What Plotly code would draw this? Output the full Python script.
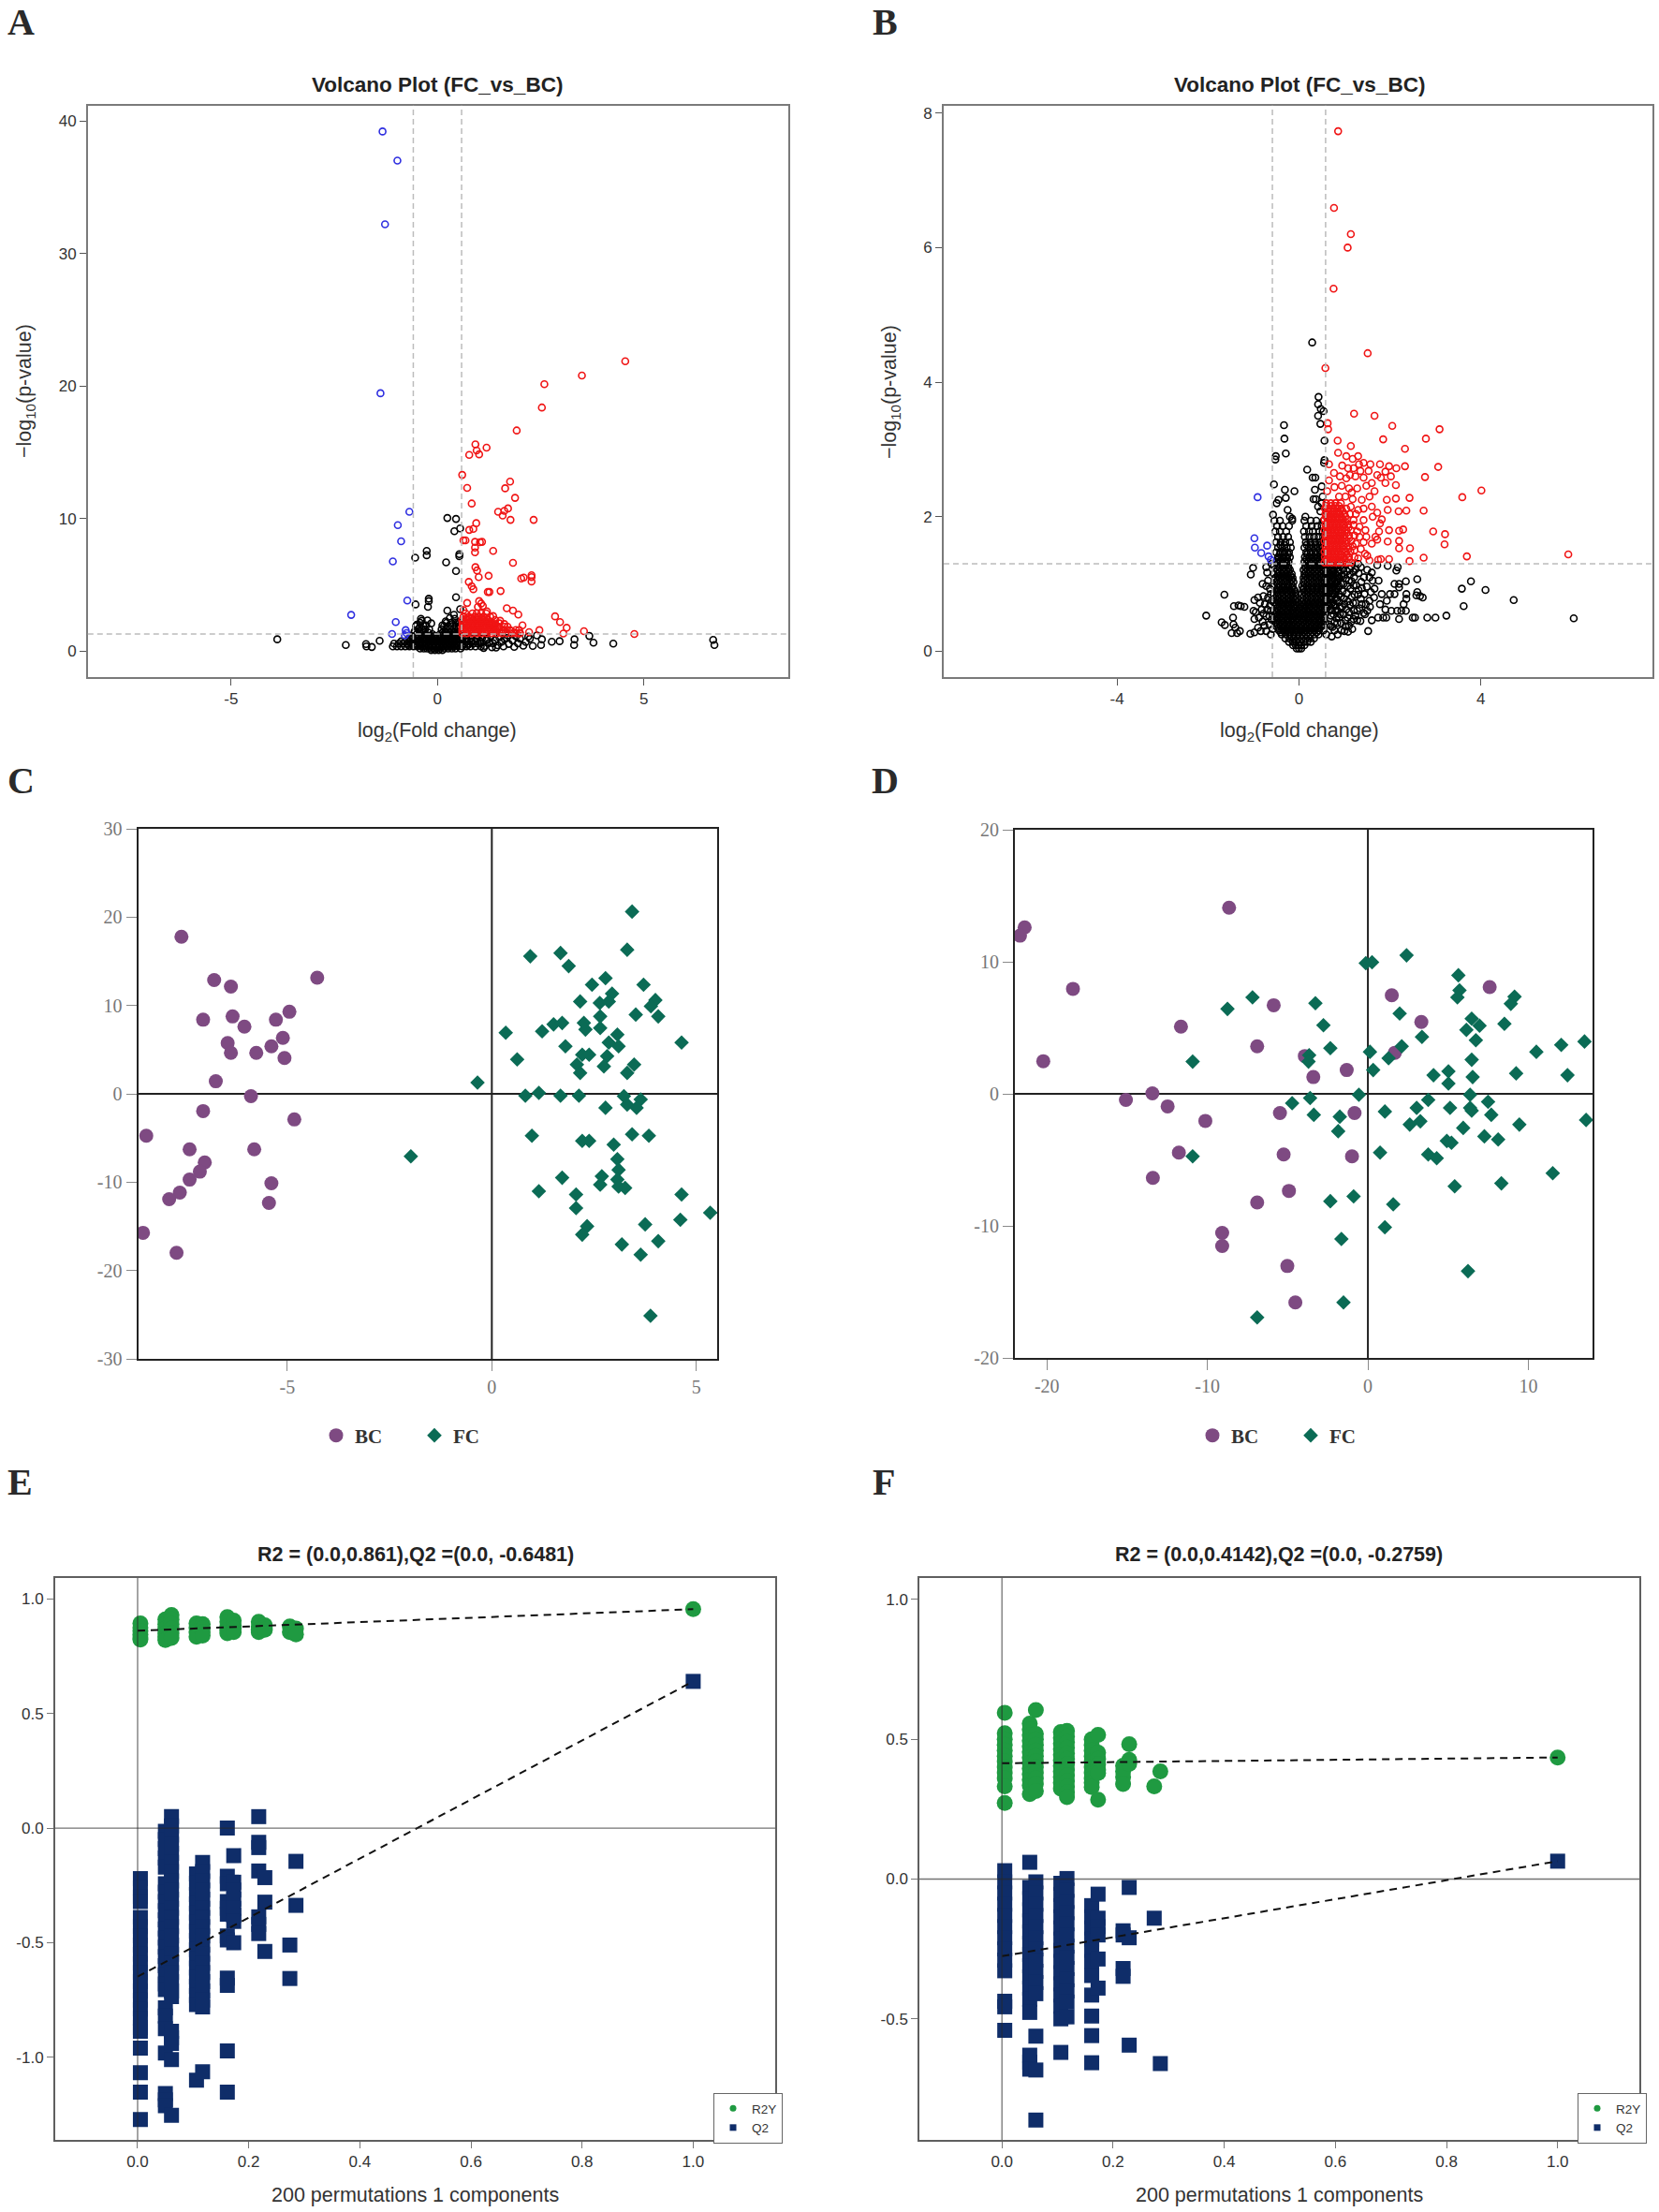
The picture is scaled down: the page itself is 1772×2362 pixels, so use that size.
import plotly.graph_objects as go

W, H = 1772, 2362

# ---------- Panel A volcano ----------
A_BLUE = [(-1.33,39.2),(-0.97,37.0),(-1.27,32.2),(-1.38,19.46),(-0.68,10.52),(-0.96,9.51),(-0.88,8.29),(-1.08,6.77),
          (-0.73,3.82),(-2.09,2.74),(-1.01,2.2),(-1.10,1.3),(-0.77,1.59),(-0.75,1.37),(-0.79,1.2)]
A_RED = [(4.55,21.87),(3.5,20.79),(2.59,20.14),(2.53,18.38),(1.92,16.65),(0.92,15.6),(0.95,15.14),(1.01,14.85),(1.19,15.35),
         (0.77,14.81),(0.60,13.3),(1.76,12.79),(1.64,12.29),(0.72,12.32),(1.88,11.57),(0.83,11.14),(1.71,10.77),(1.62,10.59),
         (1.47,10.52),(1.58,10.23),(1.77,9.91),(2.33,9.91),(0.94,9.66),(0.87,9.23),(0.77,9.15),(0.63,8.36),(0.68,8.36),(0.91,8.25),
         (1.03,8.22),(1.08,8.25),(0.91,7.82),(1.35,7.57),(0.91,7.46),(1.83,6.67),(0.92,6.34),(0.96,6.09),(1.24,5.69),(1.0,5.59),
         (2.28,5.73),(2.28,5.59),(2.03,5.48),(2.09,5.55),(2.28,5.26),(0.76,5.23),(0.83,4.9),(0.87,4.68),(1.26,4.47),(1.22,4.47),
         (1.53,4.54),(1.01,3.78),(0.72,3.64),(1.06,3.6),(1.1,3.42),(1.68,3.24),(1.83,3.06),(2.85,2.63),(1.96,2.77),(2.97,2.2),
         (3.13,1.77),(3.05,1.33),(3.55,1.51),(4.77,1.3),(2.47,1.59),(2.22,1.44),(2.06,1.95),(0.63,3.1),(0.98,3.35),(1.2,3.0),(1.35,2.65),
         (1.52,2.3),(1.62,2.05),(1.7,1.85),(1.78,1.55),(1.5,1.8),(1.4,2.05),(1.86,1.42),(2.0,1.36),(1.58,1.5)]
A_RED_ROWS = [(1.35,[0.6,0.72,0.84,0.96,1.08,1.2,1.32,1.44,1.56,1.68,1.8,1.92,2.0]),
              (1.48,[0.64,0.76,0.88,1.0,1.12,1.24,1.36,1.5]),
              (1.6,[0.6,0.71,0.83,0.95,1.07,1.19,1.31,1.42,1.6,1.75,1.9,1.98]),
              (1.72,[0.65,0.77,0.89,1.01,1.13,1.25,1.37,1.48]),
              (1.85,[0.6,0.72,0.85,0.97,1.09,1.2,1.33,1.46,1.62]),
              (1.98,[0.66,0.78,0.9,1.02,1.14,1.26,1.38]),
              (2.1,[0.61,0.73,0.84,0.96,1.08,1.19,1.31,1.5]),
              (2.22,[0.66,0.79,0.91,1.03,1.15,1.27]),
              (2.35,[0.6,0.74,0.86,0.98,1.1,1.22,1.4]),
              (2.48,[0.69,0.82,0.94,1.06,1.18]),
              (2.6,[0.63,0.76,0.9,1.0,1.12,1.28]),
              (2.85,[0.68,0.85,0.95,1.06,1.18])]
A_BLACK = [(0.24,10.05),(0.45,9.98),(0.41,9.05),(0.55,9.26),(-0.54,7.06),(-0.26,7.57),(-0.26,7.24),(0.53,7.32),(0.53,7.17),
           (0.21,6.7),(0.45,6.05),(0.45,4.07),(-0.21,3.96),(-0.21,3.78),(-0.23,3.35),(-0.53,3.53),(0.24,3.06),(0.55,3.17),
           (2.53,0.9),(2.41,1.19),(2.24,0.94),(2.51,0.47),(2.31,0.4),(2.77,0.72),(2.96,0.76),(3.32,0.9),(3.31,0.47),(3.68,1.15),
           (3.78,0.65),(4.26,0.58),(6.68,0.86),(6.71,0.47),(-3.88,0.9),(-2.22,0.47),(-1.73,0.54),(-1.72,0.36),(-1.59,0.32),(-1.4,0.79),
           (-0.4,2.45),(-0.38,2.3),(-0.24,2.32),(-0.27,1.95),(-0.15,2.1),(-0.5,2.0),(-0.44,1.75),(-0.55,1.5),(-0.3,1.65),
           (0.4,2.75),(0.3,2.5),(0.42,2.45),(0.2,2.25),(0.5,2.2),(0.12,1.95),
           (1.15,0.4),(1.25,0.62),(1.32,0.3),(1.4,0.85),(1.46,0.45),(1.55,0.7),(1.6,0.36),(1.68,1.0),(1.73,0.55),(1.82,0.8),(1.86,0.33),
           (1.95,0.6),(2.0,0.95),(2.08,0.42),(2.14,0.7),(2.2,1.1),(1.2,0.95),(1.3,1.15),(1.5,1.05),(1.7,1.2),(1.18,0.8),(1.35,0.6),
           (1.42,0.28),(1.62,0.95),(1.9,1.12),(1.12,0.25),(1.05,0.62)]
A_BLACK_ROWS = [(0.08,[-0.15,-0.06,0.03,0.12]),
                (0.2,[-0.42,-0.33,-0.25,-0.16,-0.08,0.0,0.08,0.17,0.26,0.35,0.44,0.56]),
                (0.36,[-1.08,-0.98,-0.88,-0.78,-0.68,-0.58,-0.49,-0.4,-0.31,-0.22,-0.13,-0.04,0.05,0.14,0.23,0.32,0.41,0.5,0.6,0.7,0.8,0.92,1.05]),
                (0.47,[-0.7,-0.6,-0.5,-0.41,-0.31,-0.22,-0.13,-0.04,0.05,0.14,0.23,0.32,0.41,0.5,0.62,0.74]),
                (0.58,[-1.05,-0.94,-0.84,-0.74,-0.64,-0.54,-0.45,-0.36,-0.27,-0.18,-0.09,0.0,0.09,0.18,0.27,0.36,0.45,0.55,0.65,0.76,0.87,0.98]),
                (0.74,[-0.88,-0.78,-0.68,-0.58,-0.48,-0.39,-0.3,-0.21,-0.12,-0.03,0.06,0.15,0.24,0.33,0.42,0.51,0.61,0.71,0.82,0.93,1.04]),
                (0.85,[-0.64,-0.54,-0.44,-0.35,-0.26,-0.16,-0.07,0.02,0.11,0.2,0.29,0.38,0.47,0.57]),
                (0.98,[-0.68,-0.6,-0.5,-0.41,-0.32,-0.22,-0.13,-0.04,0.05,0.14,0.23,0.32,0.41,0.5,0.6,0.7,0.82,0.95,1.08]),
                (1.15,[-0.62,-0.45,-0.38,-0.25,-0.16,-0.06,0.1,0.18,0.27,0.36,0.45,0.54,0.66,0.8,0.98]),
                (1.28,[-0.5,-0.3,-0.12,0.06,0.16,0.25,0.34,0.43,0.52]),
                (1.4,[-0.56,-0.42,-0.32,-0.22,0.12,0.21,0.3,0.39,0.48,0.56]),
                (1.65,[-0.47,-0.36,-0.2,0.1,0.2,0.3,0.4,0.5]),
                (1.9,[-0.52,-0.34,0.16,0.26,0.36,0.46,0.55]),
                (2.15,[-0.42,0.22,0.33,0.44,0.53])]

# ---------- Panel B volcano ----------
B_BLUE = [(-0.91,2.29),(-0.98,1.68),(-0.97,1.54),(-0.7,1.57),(-0.83,1.46),(-0.67,1.41),(-0.62,1.36)]
B_RED = [(0.86,7.73),(0.77,6.59),(1.14,6.20),(1.07,6.0),(0.76,5.39),(1.51,4.43),(0.58,4.21),(1.21,3.53),(1.66,3.5),(0.63,3.39),
         (0.64,3.3),(2.05,3.35),(3.09,3.3),(1.85,3.15),(2.79,3.16),(0.85,3.13),(1.14,3.05),(2.33,3.01),(0.86,2.95),(3.06,2.74),
         (4.01,2.39),(3.59,2.29),(2.43,2.28),(2.77,2.59),(2.74,2.09),(2.36,2.09),(2.19,2.08),(2.95,1.78),(3.21,1.74),(3.2,1.59),
         (2.44,1.53),(2.2,1.53),(2.74,1.39),(2.43,1.34),(3.69,1.41),(5.92,1.44),(2.2,1.64),(1.95,1.63),(2.29,1.81),(2.2,1.79),
         (2.13,2.27),(2.13,2.47),(2.33,2.75),(2.14,2.72),(1.98,2.75),(1.9,2.67),(1.78,2.78),(1.57,2.78),(1.42,2.8),(1.3,2.9),
         (1.18,2.86),(1.04,2.9),(1.32,2.78),(1.2,2.72),(1.08,2.72),(0.95,2.76),(0.77,2.65),(0.66,2.78),(0.9,2.6),(1.04,2.57),
         (1.24,2.6),(1.42,2.58),(1.6,2.5),(1.8,2.58),(1.9,2.5),(1.48,2.46),(1.28,2.42),(1.1,2.42),(0.94,2.46),(0.78,2.44),
         (0.66,2.54),(0.62,2.38),(1.66,2.38),(1.55,2.3),(1.38,2.25),(1.02,2.3),(1.18,2.26),(1.93,2.25),(0.88,2.3),(1.6,2.15),
         (1.42,2.12),(1.3,2.1),(1.25,2.04),(1.72,2.06),(1.95,2.1),(1.62,2.0),(1.42,1.95),(1.82,1.96),(1.78,1.9),(1.46,1.8),
         (1.33,1.85),(1.98,1.8),(1.76,1.78),(1.72,1.66),(1.48,1.7),(1.42,1.62),(1.6,1.6),(1.68,1.7),(1.33,1.7),(1.45,1.45),
         (1.5,1.42),(1.74,1.36),(1.8,1.37),(1.98,1.37),(1.3,1.38),(1.25,1.6),(1.55,1.35),(1.2,1.95),(1.14,2.15),(1.28,1.78),
         (1.22,1.5),(1.36,1.52),(1.16,2.36),(1.72,2.62),(2.02,2.6),(1.53,2.68),(1.35,2.68),(1.12,2.62)]
B_RED_ROWS = [(1.32,[0.56,0.64,0.72,0.8,0.88,0.97,1.05,1.14]),
              (1.36,[0.6,0.68,0.76,0.84,0.93,1.01,1.1]),
              (1.4,[0.57,0.65,0.74,0.82,0.9,0.99,1.1,1.22]),
              (1.44,[0.61,0.69,0.78,0.86,0.94,1.05]),
              (1.48,[0.56,0.63,0.71,0.79,0.87,0.95,1.03,1.13]),
              (1.52,[0.6,0.67,0.75,0.83,0.91,0.99,1.08]),
              (1.56,[0.58,0.66,0.74,0.82,0.9,0.98,1.08,1.18]),
              (1.6,[0.62,0.7,0.78,0.86,0.94,1.03]),
              (1.64,[0.56,0.64,0.72,0.8,0.88,0.96,1.05,1.15]),
              (1.68,[0.6,0.68,0.76,0.84,0.92,1.0,1.1]),
              (1.72,[0.58,0.66,0.75,0.83,0.91,1.0,1.1,1.22]),
              (1.76,[0.62,0.7,0.79,0.87,0.95,1.05]),
              (1.8,[0.56,0.63,0.71,0.79,0.87,0.95,1.04,1.14]),
              (1.84,[0.6,0.67,0.75,0.83,0.91,1.0,1.09]),
              (1.88,[0.58,0.66,0.74,0.82,0.9,0.98,1.08,1.2]),
              (1.92,[0.62,0.7,0.78,0.86,0.94,1.03]),
              (1.96,[0.56,0.64,0.72,0.8,0.88,0.97,1.06]),
              (2.0,[0.6,0.68,0.76,0.84,0.93,1.02]),
              (2.04,[0.58,0.65,0.73,0.82,0.9,1.0,1.12]),
              (2.08,[0.62,0.7,0.78,0.87,0.96]),
              (2.12,[0.57,0.66,0.75,0.84,0.93,1.04]),
              (2.16,[0.6,0.71,0.8,0.88]),
              (2.2,[0.6,0.7,0.8,0.92])]
B_BLACK = [(0.29,4.59),(0.43,3.78),(0.42,3.67),(0.42,3.5),(0.54,3.57),(0.48,3.6),(0.47,3.38),(0.56,3.13),(-0.33,3.36),(-0.32,3.16),
           (-0.29,2.94),(-0.51,2.9),(-0.52,2.85),(0.18,2.7),(0.3,2.58),(0.36,2.58),(0.56,2.84),(0.55,2.8),(-0.55,2.48),(0.5,2.45),(-0.31,2.4),
           (-0.1,2.38),(0.35,2.4),(-0.29,2.28),(-0.45,2.25),(-0.49,2.2),(0.32,2.26),(0.37,2.26),(0.52,2.3),(-0.57,2.03),(-0.25,2.1),(0.5,2.2),
           (-0.2,2.0),(-0.15,1.97),(0.14,2.0),(0.42,2.15),(0.47,2.08),(-1.01,1.24),(-1.06,1.14),(-0.72,1.25),(-0.7,1.17),(-0.6,1.3),
           (-0.8,1.0),(-0.72,0.97),(-0.9,0.8),(-0.98,0.76),(-1.0,0.6),(-1.2,0.66),(-1.28,0.67),(-1.33,0.68),(-1.43,0.67),(-1.64,0.84),
           (-2.04,0.53),(-1.7,0.43),(-1.63,0.39),(-1.44,0.4),(-1.45,0.5),(-1.4,0.35),(-1.36,0.27),(-1.3,0.3),(-1.48,0.27),(-1.07,0.26),
           (-0.98,0.28),(-0.9,0.35),(-0.98,0.48),(-0.88,0.5),(-0.95,0.58),(-0.82,0.62),(-0.75,0.7),(-0.8,0.44),(-0.72,0.3),(-0.65,0.52),
           (-0.72,0.52),(-0.64,0.68),(-0.62,0.85),(-0.78,0.82),(-0.65,0.4),(-0.62,0.25),(-0.68,1.05),
           (-0.58,0.33),(-0.6,0.47),(-0.62,0.6),(-0.6,0.75),(-0.64,0.93),(-0.68,0.8),(-0.7,0.62),(-0.76,0.38),(-0.84,0.3),(-0.86,0.72),(-0.78,0.56),
           (6.04,0.49),(4.72,0.76),(4.1,0.91),(3.78,1.04),(3.58,0.93),(3.62,0.67),(3.24,0.53),(3.0,0.5),(2.82,0.5),(2.55,0.5),(2.5,0.5),
           (2.36,0.78),(2.66,0.82),(2.6,0.88),(2.58,0.83),(2.72,0.8),(2.6,1.07),(2.35,1.04),(2.2,1.0),(2.1,1.0),(2.2,0.95),(2.1,0.85),(2.0,0.85),
           (2.36,0.85),(2.3,0.7),(2.25,0.6),(2.35,0.6),(2.16,0.6),(2.2,0.48),(2.03,0.6),(1.92,0.5),(1.85,0.5),(1.74,0.5),(1.6,0.46),
           (1.52,0.3),(1.78,0.7),(1.9,0.62),(1.93,0.75),(1.82,0.85),(1.75,1.05),(1.62,1.05),(1.55,1.1),(1.95,1.27),(2.14,1.2),(2.17,1.25),
           (1.65,0.8),(1.55,0.75),(1.5,0.6),(1.45,0.55),(1.35,0.45),(1.2,0.48),(1.1,0.38),(1.0,0.3),(0.85,0.25),(0.72,0.22),
           (0.93,0.42),(1.02,0.37),(0.98,0.55),(1.07,0.5),(1.15,0.44),(1.24,0.53),(1.28,0.46),(0.95,0.66),(1.04,0.62),(1.12,0.69),(1.21,0.6),
           (1.33,0.64),(1.42,0.57),(0.99,0.78),(1.08,0.74),(1.16,0.81),(1.25,0.72),(1.36,0.78),(1.47,0.7),(1.56,0.66),(0.96,0.89),(1.05,0.86),
           (1.13,0.93),(1.22,0.84),(1.31,0.91),(1.44,0.85),(1.58,0.88),(0.98,1.0),(1.07,0.97),(1.16,1.04),(1.26,0.98),(1.37,1.03),(1.49,0.96),
           (1.66,0.93),(0.94,1.11),(1.03,1.08),(1.12,1.14),(1.21,1.1),(1.31,1.16),(1.43,1.1),(1.6,1.17),(0.97,1.22),(1.06,1.19),(1.15,1.26),
           (1.25,1.22),(1.36,1.25),(1.5,1.21),(1.72,1.28),(0.93,0.31),(1.08,0.29),(1.17,0.33),
           (0.66,0.4),(0.74,0.36),(0.84,0.42),(0.7,0.53),(0.8,0.6),(0.88,0.5),(0.76,0.68),(0.9,0.66),(0.78,0.84),(0.84,0.76),(0.92,0.81),(1.0,0.7),
           (0.74,0.94),(0.82,0.93),(0.92,1.0),(0.78,1.05),(0.87,1.12),(1.0,1.14),(0.76,1.2),(0.82,1.28),(0.92,1.27),(1.02,1.29),(1.11,1.22),(1.2,1.18),
           (1.3,1.3),(1.1,1.05),(1.2,0.98),(1.3,0.84),(1.38,0.94),(1.19,0.72),(1.28,0.6),(1.1,0.58),(1.02,0.46),(1.38,0.7)]
B_BLACK_ROWS = [(0.04,[-0.05,0.0,0.05]),
                (0.09,[-0.13,-0.07,-0.01,0.05,0.12]),
                (0.14,[-0.22,-0.14,-0.06,0.02,0.1,0.18,0.26]),
                (0.19,[-0.3,-0.21,-0.12,-0.03,0.06,0.15,0.24,0.33]),
                (0.25,[-0.38,-0.29,-0.2,-0.11,-0.02,0.07,0.16,0.25,0.34,0.43,0.6]),
                (0.28,[-0.4,-0.31,-0.21,-0.11,-0.01,0.09,0.19,0.29,0.39]),
                (0.31,[-0.44,-0.35,-0.26,-0.16,-0.06,0.04,0.14,0.24,0.34,0.44,0.54,0.78]),
                (0.34,[-0.45,-0.35,-0.25,-0.15,-0.05,0.05,0.15,0.25,0.35,0.45]),
                (0.37,[-0.5,-0.4,-0.3,-0.2,-0.1,0.0,0.1,0.2,0.3,0.4,0.5,0.7]),
                (0.4,[-0.47,-0.37,-0.27,-0.17,-0.07,0.03,0.13,0.23,0.33,0.43,0.53]),
                (0.43,[-0.52,-0.42,-0.32,-0.22,-0.12,-0.02,0.08,0.18,0.28,0.38,0.48,0.58,0.78]),
                (0.46,[-0.5,-0.4,-0.3,-0.2,-0.1,0.0,0.1,0.2,0.3,0.4,0.5]),
                (0.49,[-0.55,-0.45,-0.35,-0.25,-0.15,-0.05,0.05,0.15,0.25,0.35,0.45,0.55,0.82]),
                (0.52,[-0.47,-0.37,-0.27,-0.17,-0.07,0.03,0.13,0.23,0.33,0.43,0.53]),
                (0.55,[-0.52,-0.42,-0.32,-0.22,-0.12,-0.02,0.08,0.18,0.28,0.38,0.48,0.58,0.76,0.9]),
                (0.58,[-0.5,-0.4,-0.3,-0.2,-0.1,0.0,0.1,0.2,0.3,0.4,0.5]),
                (0.61,[-0.55,-0.45,-0.35,-0.25,-0.15,-0.05,0.05,0.15,0.25,0.35,0.45,0.55,0.72,0.84]),
                (0.64,[-0.47,-0.37,-0.27,-0.17,-0.07,0.03,0.13,0.23,0.33,0.43,0.53,0.62]),
                (0.67,[-0.52,-0.42,-0.32,-0.22,-0.12,-0.03,0.08,0.18,0.28,0.38,0.48,0.58,0.66,0.8]),
                (0.7,[-0.5,-0.4,-0.3,-0.2,-0.1,0.0,0.1,0.2,0.3,0.4,0.5,0.62,0.71]),
                (0.73,[-0.55,-0.45,-0.35,-0.25,-0.15,-0.06,0.06,0.15,0.25,0.35,0.45,0.55,0.64,0.75,0.88]),
                (0.76,[-0.47,-0.37,-0.27,-0.17,-0.08,0.11,0.21,0.31,0.41,0.51,0.6,0.69]),
                (0.79,[-0.52,-0.42,-0.32,-0.22,-0.12,0.08,0.18,0.28,0.38,0.48,0.58,0.68,0.82]),
                (0.82,[-0.48,-0.38,-0.28,-0.18,-0.09,0.11,0.21,0.31,0.41,0.51,0.6,0.72]),
                (0.85,[-0.55,-0.45,-0.35,-0.25,-0.15,-0.07,0.06,0.15,0.25,0.35,0.45,0.55,0.62,0.74,0.88]),
                (0.88,[-0.47,-0.37,-0.27,-0.17,-0.08,0.12,0.22,0.32,0.42,0.52,0.6,0.67,0.8]),
                (0.91,[-0.5,-0.4,-0.3,-0.2,-0.1,0.09,0.19,0.29,0.39,0.49,0.59,0.68,0.8]),
                (0.94,[-0.46,-0.36,-0.26,-0.16,0.1,0.2,0.3,0.4,0.5,0.58,0.66,0.74,0.86]),
                (0.97,[-0.55,-0.44,-0.34,-0.24,-0.14,0.07,0.17,0.27,0.37,0.47,0.57,0.64,0.76,0.88]),
                (1.0,[-0.47,-0.37,-0.27,-0.17,0.13,0.23,0.33,0.43,0.53,0.62,0.71,0.8]),
                (1.03,[-0.5,-0.4,-0.3,-0.2,-0.12,0.1,0.2,0.3,0.4,0.5,0.6,0.7,0.82]),
                (1.06,[-0.46,-0.36,-0.26,-0.16,0.13,0.23,0.33,0.43,0.53,0.62,0.72,0.86]),
                (1.09,[-0.52,-0.43,-0.33,-0.23,-0.14,0.1,0.2,0.3,0.4,0.5,0.58,0.66,0.76,0.88]),
                (1.12,[-0.47,-0.38,-0.28,-0.18,0.14,0.24,0.34,0.44,0.54,0.62,0.72,0.84]),
                (1.15,[-0.55,-0.46,-0.36,-0.26,-0.16,0.12,0.21,0.31,0.41,0.51,0.6,0.7,0.8]),
                (1.18,[-0.43,-0.33,-0.24,0.15,0.25,0.35,0.45,0.55,0.64,0.74,0.86]),
                (1.21,[-0.48,-0.38,-0.28,-0.2,0.1,0.19,0.29,0.39,0.49,0.58,0.66,0.76,0.88]),
                (1.24,[-0.42,-0.32,-0.23,0.14,0.24,0.34,0.44,0.54,0.62,0.72,0.84]),
                (1.27,[-0.55,-0.44,-0.34,-0.24,0.14,0.23,0.33,0.43,0.52,0.6,0.68,0.8]),
                (1.3,[-0.47,-0.37,-0.27,0.17,0.27,0.37,0.47,0.56,0.66,0.76]),
                (1.33,[-0.5,-0.41,-0.31,-0.23,0.12,0.21,0.31,0.41,0.51]),
                (1.37,[-0.45,-0.35,-0.26,0.16,0.26,0.36,0.46,0.54]),
                (1.4,[-0.46,-0.37,-0.28,-0.2,0.13,0.23,0.33,0.43,0.53]),
                (1.44,[-0.42,-0.33,-0.24,0.18,0.28,0.38,0.48]),
                (1.47,[-0.5,-0.41,-0.32,-0.22,0.16,0.26,0.36,0.46,0.54]),
                (1.54,[-0.46,-0.37,-0.27,-0.18,0.12,0.22,0.32,0.42,0.52]),
                (1.58,[-0.41,-0.32,0.17,0.27,0.37,0.47]),
                (1.62,[-0.5,-0.4,-0.3,-0.2,0.15,0.25,0.35,0.45,0.54]),
                (1.7,[-0.46,-0.35,-0.24,0.13,0.23,0.33,0.43,0.53]),
                (1.78,[-0.52,-0.42,-0.28,0.11,0.22,0.3,0.45,0.52]),
                (1.86,[-0.48,-0.36,-0.22,0.16,0.28,0.4,0.5]),
                (1.94,[-0.54,-0.42,-0.15,0.12,0.26,0.38,0.54])]

# ---------- Panels C and D: score plots ----------
C_BC_X = [-7.59,-6.79,-6.38,-4.27,-4.95,-5.28,-6.34,-7.06,-6.05,-5.11,-6.46,-6.38,-5.76,-5.39,-5.07,-6.75,-5.89,-7.06,-4.83,-8.45,-7.39,-5.81,-7.02,-7.14,-7.39,-5.39,-7.63,-7.89,-5.45,-8.53,-7.71]
C_BC_Y = [17.78,12.88,12.14,13.14,9.29,8.39,8.76,8.39,7.60,6.33,5.75,4.64,4.64,5.38,4.06,1.42,-0.26,-1.95,-2.90,-4.75,-6.28,-6.28,-7.76,-8.81,-9.71,-10.13,-11.19,-11.93,-12.35,-15.73,-17.99]
C_FC_X = [3.43,3.31,1.68,0.94,1.88,2.78,2.45,3.71,2.94,4.0,2.16,2.64,2.86,3.89,3.52,4.07,2.65,1.51,1.72,2.25,2.29,2.65,0.34,1.23,3.07,2.86,4.64,3.10,1.80,2.21,2.38,2.82,0.62,2.08,3.48,2.74,2.16,3.31,-0.35,1.15,0.82,1.68,2.13,3.23,3.64,3.31,2.78,3.54,0.98,3.43,3.84,2.21,2.38,2.98,-1.98,3.07,3.10,1.72,2.69,3.07,2.65,3.10,3.26,1.15,2.06,4.64,2.06,5.34,4.61,3.75,2.33,2.21,4.07,3.18,3.64,3.88]
C_FC_Y = [20.63,16.31,15.94,15.57,14.46,13.09,12.35,12.35,11.35,10.61,10.45,10.29,10.45,9.92,8.97,8.76,8.76,7.86,8.02,8.02,7.28,7.44,6.91,7.07,6.70,5.80,5.80,5.38,5.38,4.43,4.43,4.27,3.90,3.32,3.32,3.11,2.37,2.37,1.27,0.11,-0.21,-0.21,-0.21,-0.26,-0.63,-1.21,-1.58,-1.58,-4.75,-4.59,-4.75,-5.33,-5.33,-5.75,-7.07,-7.39,-8.60,-9.50,-9.34,-9.71,-10.29,-10.50,-10.66,-11.03,-11.40,-11.40,-12.93,-13.46,-14.25,-14.78,-14.99,-15.94,-16.68,-17.05,-18.21,-25.12]
D_BC_X = [-8.65,-21.39,-21.68,-18.38,7.59,1.49,-5.87,3.33,-11.65,-6.90,-20.23,1.68,-3.93,-1.32,-3.40,-13.43,-15.08,-12.48,-5.48,-0.83,-10.13,-11.78,-5.25,-0.99,-13.40,-4.92,-6.90,-9.08,-9.08,-5.02,-4.52]
D_BC_Y = [14.10,12.61,11.98,7.95,8.09,7.46,6.71,5.44,5.09,3.60,2.47,3.11,2.86,1.80,1.27,0.04,-0.46,-0.95,-1.45,-1.45,-2.05,-4.45,-4.59,-4.73,-6.36,-7.35,-8.23,-10.53,-11.52,-13.04,-15.80]
D_FC_X = [2.41,-0.13,0.26,5.64,5.71,5.58,-7.19,9.14,8.91,-8.75,-3.27,1.98,6.47,8.51,6.96,-2.77,6.14,3.37,6.73,13.50,12.05,-2.34,2.11,10.50,0.13,-3.66,1.29,6.47,-3.70,-10.92,0.33,5.02,9.24,4.09,12.44,6.53,5.02,-0.56,6.37,-3.60,3.76,7.49,-4.72,3.04,5.12,6.37,1.06,6.47,-3.37,-1.75,7.69,13.60,3.27,2.61,9.44,5.94,-1.85,7.26,8.12,4.92,5.21,0.76,-10.92,3.76,4.29,11.52,8.32,5.41,-0.89,-2.34,1.58,1.06,-1.65,6.24,-1.52,-6.90]
D_FC_Y = [10.49,9.89,9.96,8.98,7.84,7.31,7.31,7.35,6.82,6.43,6.86,6.08,5.69,5.30,5.16,5.19,4.84,4.31,4.06,3.96,3.71,3.46,3.60,3.18,3.18,2.93,2.69,2.58,2.44,2.44,1.80,1.70,1.55,1.41,1.41,1.27,0.78,-0.07,-0.07,-0.32,-0.46,-0.60,-0.71,-1.06,-1.06,-1.06,-1.34,-1.27,-1.59,-1.73,-1.59,-1.98,-2.08,-2.33,-2.33,-2.58,-2.83,-3.22,-3.46,-3.57,-3.71,-4.45,-4.73,-4.59,-4.88,-6.01,-6.78,-7.00,-7.77,-8.13,-8.37,-10.11,-10.99,-13.43,-15.80,-16.93]

# ---------- Panels E and F: permutation plots (x column, y values) ----------
E_R2 = [(0.005,[0.893,0.875,0.86,0.845,0.83,0.822]),(0.05,[0.91,0.89,0.87,0.85,0.835,0.82]),(0.061,[0.93,0.91,0.89,0.87,0.85,0.83]),
        (0.106,[0.893,0.875,0.855,0.835]),(0.117,[0.89,0.87,0.855,0.84]),(0.1615,[0.92,0.9,0.88,0.865,0.85]),(0.173,[0.905,0.885,0.87,0.855]),
        (0.218,[0.9,0.88,0.865,0.855]),(0.229,[0.885,0.875,0.865]),(0.274,[0.88,0.855]),(0.285,[0.87,0.845]),(1.0,[0.955])]
E_Q2 = [(0.005,[-0.22,-0.26,-0.30,-0.32,-0.39,-0.43,-0.47,-0.51,-0.55,-0.59,-0.63,-0.67,-0.71,-0.75,-0.79,-0.83,-0.87,-0.886,-0.96,-1.067,-1.152,-1.271]),
        (0.05,[-0.014,-0.05,-0.09,-0.13,-0.17,-0.243,-0.28,-0.32,-0.36,-0.40,-0.44,-0.48,-0.52,-0.56,-0.60,-0.64,-0.68,-0.704,-0.784,-0.82,-0.875,-0.981,-1.158,-1.185,-1.211]),
        (0.061,[0.05,0.01,-0.03,-0.07,-0.11,-0.15,-0.19,-0.23,-0.27,-0.31,-0.35,-0.39,-0.43,-0.47,-0.51,-0.55,-0.59,-0.63,-0.67,-0.71,-0.735,-0.886,-0.915,-0.939,-1.01,-1.253]),
        (0.106,[-0.20,-0.24,-0.29,-0.33,-0.37,-0.41,-0.45,-0.49,-0.53,-0.57,-0.61,-0.65,-0.69,-0.73,-0.77,-1.10]),
        (0.117,[-0.15,-0.19,-0.23,-0.27,-0.31,-0.35,-0.39,-0.43,-0.47,-0.51,-0.55,-0.59,-0.63,-0.67,-0.71,-0.75,-0.78,-1.063]),
        (0.1615,[0.0,-0.21,-0.243,-0.32,-0.35,-0.376,-0.47,-0.488,-0.654,-0.686,-0.972,-1.152]),
        (0.173,[-0.12,-0.236,-0.27,-0.31,-0.35,-0.38,-0.407,-0.50]),
        (0.218,[0.05,-0.062,-0.085,-0.187,-0.387,-0.42,-0.46]),(0.229,[-0.216,-0.323,-0.538]),
        (0.274,[-0.51,-0.656]),(0.285,[-0.145,-0.337]),(1.0,[0.64])]
F_R2 = [(0.005,[0.595,0.522,0.5,0.48,0.46,0.44,0.42,0.40,0.38,0.36,0.332,0.272]),
        (0.05,[0.556,0.535,0.515,0.495,0.475,0.455,0.435,0.415,0.395,0.375,0.355,0.335,0.304]),
        (0.061,[0.605,0.519,0.5,0.48,0.46,0.44,0.42,0.40,0.38,0.36,0.34,0.315]),
        (0.106,[0.526,0.505,0.485,0.465,0.445,0.425,0.405,0.385,0.365,0.345,0.323]),
        (0.117,[0.53,0.51,0.49,0.47,0.45,0.43,0.41,0.39,0.37,0.35,0.33,0.31,0.293]),
        (0.1615,[0.50,0.48,0.46,0.44,0.42,0.40,0.38,0.36,0.345,0.329]),
        (0.173,[0.516,0.452,0.43,0.41,0.39,0.379,0.284]),
        (0.218,[0.405,0.385,0.365,0.34]),(0.229,[0.482,0.426,0.412]),(0.274,[0.332]),(0.285,[0.385]),(1.0,[0.435])]
F_Q2 = [(0.005,[0.03,-0.01,-0.05,-0.09,-0.13,-0.17,-0.21,-0.25,-0.29,-0.328,-0.437,-0.457,-0.541]),
        (0.05,[0.06,-0.03,-0.07,-0.11,-0.15,-0.19,-0.23,-0.27,-0.31,-0.35,-0.39,-0.43,-0.477,-0.63,-0.655,-0.68]),
        (0.061,[-0.01,-0.05,-0.09,-0.13,-0.17,-0.21,-0.25,-0.29,-0.33,-0.37,-0.41,-0.562,-0.683,-0.862]),
        (0.106,[-0.015,-0.055,-0.095,-0.135,-0.175,-0.215,-0.255,-0.295,-0.335,-0.375,-0.415,-0.455,-0.50,-0.62]),
        (0.117,[0.002,-0.04,-0.08,-0.12,-0.16,-0.20,-0.24,-0.28,-0.32,-0.36,-0.40,-0.44,-0.493]),
        (0.1615,[-0.095,-0.135,-0.175,-0.215,-0.255,-0.295,-0.345,-0.415,-0.49,-0.56,-0.657]),
        (0.173,[-0.054,-0.14,-0.17,-0.20,-0.286,-0.39]),
        (0.218,[-0.185,-0.20,-0.32,-0.348]),(0.229,[-0.03,-0.21,-0.594]),(0.274,[-0.14]),(0.285,[-0.66]),(1.0,[0.064])]
E_R2_FIT = ([0.0,1.0],[0.861,0.955])
E_Q2_FIT = ([0.0,1.0],[-0.6481,0.64])
F_R2_FIT = ([0.0,1.0],[0.4142,0.435])
F_Q2_FIT = ([0.0,1.0],[-0.2759,0.064])

A_XTICKS, A_XTEXT = [-5,0,5], ["-5","0","5"]
A_YTICKS, A_YTEXT = [0,10,20,30,40], ["0","10","20","30","40"]
B_XTICKS, B_XTEXT = [-4,0,4], ["-4","0","4"]
B_YTICKS, B_YTEXT = [0,2,4,6,8], ["0","2","4","6","8"]
C_XTICKS, C_XTEXT = [-5,0,5], ["-5","0","5"]
C_YTICKS, C_YTEXT = [-30,-20,-10,0,10,20,30], ["-30","-20","-10","0","10","20","30"]
D_XTICKS, D_XTEXT = [-20,-10,0,10], ["-20","-10","0","10"]
D_YTICKS, D_YTEXT = [-20,-10,0,10,20], ["-20","-10","0","10","20"]
P_XTICKS, P_XTEXT = [0,0.2,0.4,0.6,0.8,1.0], ["0.0","0.2","0.4","0.6","0.8","1.0"]
E_YTICKS, E_YTEXT = [-1,-0.5,0,0.5,1], ["-1.0","-0.5","0.0","0.5","1.0"]
F_YTICKS, F_YTEXT = [-0.5,0,0.5,1], ["-0.5","0.0","0.5","1.0"]

# ---------- helpers ----------
def pairs(points, rows=()):
    xs = [p[0] for p in points]; ys = [p[1] for p in points]
    for y, row in rows:
        xs += row; ys += [y]*len(row)
    return xs, ys

def cols(columns):
    xs, ys = [], []
    for x, vals in columns:
        xs += [x]*len(vals); ys += vals
    return xs, ys

fig = go.Figure()
SANS = "Liberation Sans"; SERIF = "Liberation Serif"

PANELS = {  # x0, x1, y0, y1 in pixels; axis ranges
    "": (93.8, 842, 112.8, 723, (-8.47,8.5), (-1.95,41.15)),
    "2": (1008, 1765, 112.8, 723, (-7.81,7.77), (-0.384,8.11)),
    "3": (147.5, 766, 885, 1451, (-8.65,5.51), (-30,30)),
    "4": (1084, 1701, 886, 1450, (-22.0,14.0), (-20,20)),
    "5": (58.8, 828, 1685, 2285, (-0.1486,1.1476), (-1.36,1.091)),
    "6": (982, 1751, 1685, 2285, (-0.1486,1.147), (-0.933,1.077)),
}
TICKS = {"":(A_XTICKS,A_XTEXT,A_YTICKS,A_YTEXT),"2":(B_XTICKS,B_XTEXT,B_YTICKS,B_YTEXT),
         "3":(C_XTICKS,C_XTEXT,C_YTICKS,C_YTEXT),"4":(D_XTICKS,D_XTEXT,D_YTICKS,D_YTEXT),
         "5":(P_XTICKS,P_XTEXT,E_YTICKS,E_YTEXT),"6":(P_XTICKS,P_XTEXT,F_YTICKS,F_YTEXT)}
layout = {}
for k,(x0,x1,y0,y1,xr,yr) in PANELS.items():
    xt,xl,yt,yl = TICKS[k]
    if k in ("3","4"):
        line, lw, tc, fnt = "#222222", 2, "#8a8a8a", dict(family=SERIF,size=20,color="#777777")
        tl = 11
    elif k in ("5","6"):
        line, lw, tc, fnt = "#5f5f5f", 1.5, "#777777", dict(family=SANS,size=17,color="#333333")
        tl = 7
    else:
        line, lw, tc, fnt = "#7a7a7a", 1.6, "#555555", dict(family=SANS,size=17,color="#333333")
        tl = 7
    common = dict(showgrid=False, zeroline=False, showline=True, mirror=True, linecolor=line, linewidth=lw,
                  ticks="outside", ticklen=tl, tickcolor=tc, tickwidth=1.2, tickfont=fnt, tickmode="array")
    layout["xaxis"+k] = dict(domain=[x0/W,x1/W], range=list(xr), anchor="y"+k, tickvals=xt, ticktext=xl, **common)
    layout["yaxis"+k] = dict(domain=[1-y1/H,1-y0/H], range=list(yr), anchor="x"+k, tickvals=yt, ticktext=yl, **common)

def volcano(k, black, red, blue):
    for (xs,ys),c in ((black,"#000000"),(red,"#f01414"),(blue,"#2f2fe0")):
        fig.add_trace(go.Scatter(x=xs,y=ys,mode="markers",xaxis="x"+k,yaxis="y"+k,showlegend=False,
                                 marker=dict(symbol="circle-open",size=7,color=c,line=dict(width=1.6,color=c))))
volcano("", pairs(A_BLACK,A_BLACK_ROWS), pairs(A_RED,A_RED_ROWS), pairs(A_BLUE))
volcano("2", pairs(B_BLACK,B_BLACK_ROWS), pairs(B_RED,B_RED_ROWS), pairs(B_BLUE))

PURPLE, TEAL = "#7e4a82", "#0b6b55"
def score(k, lg, bx, by, fx, fy):
    fig.add_trace(go.Scatter(x=bx,y=by,mode="markers",name="<b>BC</b>",xaxis="x"+k,yaxis="y"+k,legend=lg,
                             marker=dict(symbol="circle",size=15,color=PURPLE)))
    fig.add_trace(go.Scatter(x=fx,y=fy,mode="markers",name="<b>FC</b>",xaxis="x"+k,yaxis="y"+k,legend=lg,
                             marker=dict(symbol="diamond",size=12,color=TEAL)))
score("3","legend",C_BC_X,C_BC_Y,C_FC_X,C_FC_Y)
score("4","legend2",D_BC_X,D_BC_Y,D_FC_X,D_FC_Y)

GREEN, NAVY = "#1f9a41", "#0f2d69"
def perm(k, lg, r2, q2, rfit, qfit):
    x,y = cols(r2)
    fig.add_trace(go.Scatter(x=x,y=y,mode="markers",xaxis="x"+k,yaxis="y"+k,showlegend=False,
                             marker=dict(symbol="circle",size=17,color=GREEN)))
    x,y = cols(q2)
    fig.add_trace(go.Scatter(x=x,y=y,mode="markers",xaxis="x"+k,yaxis="y"+k,showlegend=False,
                             marker=dict(symbol="square",size=16,color=NAVY)))
    for f in (rfit,qfit):
        fig.add_trace(go.Scatter(x=f[0],y=f[1],mode="lines",xaxis="x"+k,yaxis="y"+k,showlegend=False,
                                 line=dict(color="#111111",width=2,dash="8px,6px")))
    fig.add_trace(go.Scatter(x=[None],y=[None],mode="markers",name="R2Y",xaxis="x"+k,yaxis="y"+k,legend=lg,
                             marker=dict(symbol="circle",size=7,color=GREEN)))
    fig.add_trace(go.Scatter(x=[None],y=[None],mode="markers",name="Q2",xaxis="x"+k,yaxis="y"+k,legend=lg,
                             marker=dict(symbol="square",size=7,color=NAVY)))
perm("5","legend3",E_R2,E_Q2,E_R2_FIT,E_Q2_FIT)
perm("6","legend4",F_R2,F_Q2,F_R2_FIT,F_Q2_FIT)

# threshold and origin lines
shapes = []
def vline(k,x,**kw):
    shapes.append(dict(type="line",xref="x"+k,yref=f"y{k} domain",x0=x,x1=x,y0=0,y1=1,**kw))
def hline(k,y,**kw):
    shapes.append(dict(type="line",yref="y"+k,xref=f"x{k} domain",y0=y,y1=y,x0=0,x1=1,**kw))
THRESH = dict(line=dict(color="#bcbcbc",width=1.5,dash="6px,4px"),layer="above")
for k in ("","2"):
    vline(k,-0.585,**THRESH); vline(k,0.585,**THRESH); hline(k,1.3,**THRESH)
for k in ("3","4"):
    l = dict(line=dict(color="#222222",width=2),layer="below")
    vline(k,0,**l); hline(k,0,**l)
for k in ("5","6"):
    l = dict(line=dict(color="rgba(40,40,40,0.65)",width=1.3),layer="above")
    vline(k,0,**l); hline(k,0,**l)

# texts
ann = []
def txt(s,x,y,size,family=SANS,color="#222222",angle=0,xanchor="center"):
    ann.append(dict(text=s,x=x/W,y=1-y/H,xref="paper",yref="paper",showarrow=False,xanchor=xanchor,yanchor="middle",
                    textangle=angle,font=dict(family=family,size=size,color=color)))
txt("<b>A</b>",6,24,40,SERIF,"#2a2a2a",xanchor="left")
txt("<b>B</b>",930,24,40,SERIF,"#2a2a2a",xanchor="left")
txt("<b>C</b>",6,834,40,SERIF,"#2a2a2a",xanchor="left")
txt("<b>D</b>",929,834,40,SERIF,"#2a2a2a",xanchor="left")
txt("<b>E</b>",6,1582,40,SERIF,"#2a2a2a",xanchor="left")
txt("<b>F</b>",930,1582,40,SERIF,"#2a2a2a",xanchor="left")
TITLE_V = "<b>Volcano Plot (FC_vs_BC)</b>"
txt(TITLE_V,467,90,22.5); txt(TITLE_V,1387.7,90,22.5)
XLAB = "log<sub>2</sub>(Fold change)"; YLAB = "\u2212log<sub>10</sub>(p-value)"
txt(XLAB,467,782,21.5,color="#333333"); txt(XLAB,1387.7,782,21.5,color="#333333")
txt(YLAB,27,418,21.5,color="#333333",angle=-90); txt(YLAB,951,418,21.5,color="#333333",angle=-90)
txt("<b>R2 = (0.0,0.861),Q2 =(0.0, -0.6481)</b>",443.6,1660,21.5)
txt("<b>R2 = (0.0,0.4142),Q2 =(0.0, -0.2759)</b>",1366,1660,21.5)
txt("200 permutations 1 components",443.6,2344,21.5,color="#333333")
txt("200 permutations 1 components",1366,2344,21.5,color="#333333")

def lg_h(x):
    return dict(orientation="h",x=x/W,y=1-1533/H,xanchor="left",yanchor="middle",bgcolor="rgba(0,0,0,0)",
                entrywidth=60,entrywidthmode="pixels",
                font=dict(family=SERIF,size=21,color="#333333"),itemclick=False,itemdoubleclick=False)
def lg_box(x):
    return dict(orientation="v",x=x/W,y=1-2235/H,xanchor="left",yanchor="top",bgcolor="#ffffff",bordercolor="#666666",borderwidth=1,
                entrywidth=18,entrywidthmode="pixels",
                font=dict(family=SANS,size=13.5,color="#333333"),itemclick=False,itemdoubleclick=False,tracegroupgap=0)

fig.update_layout(width=W,height=H,margin=dict(l=0,r=0,t=0,b=0,autoexpand=False),paper_bgcolor="#ffffff",plot_bgcolor="#ffffff",
                  shapes=shapes,annotations=ann,legend=lg_h(339),legend2=lg_h(1275),legend3=lg_box(762),legend4=lg_box(1685),
                  **layout)
fig.write_html("out.html",post_script="document.body.style.margin='0';",config={"displayModeBar":False})
